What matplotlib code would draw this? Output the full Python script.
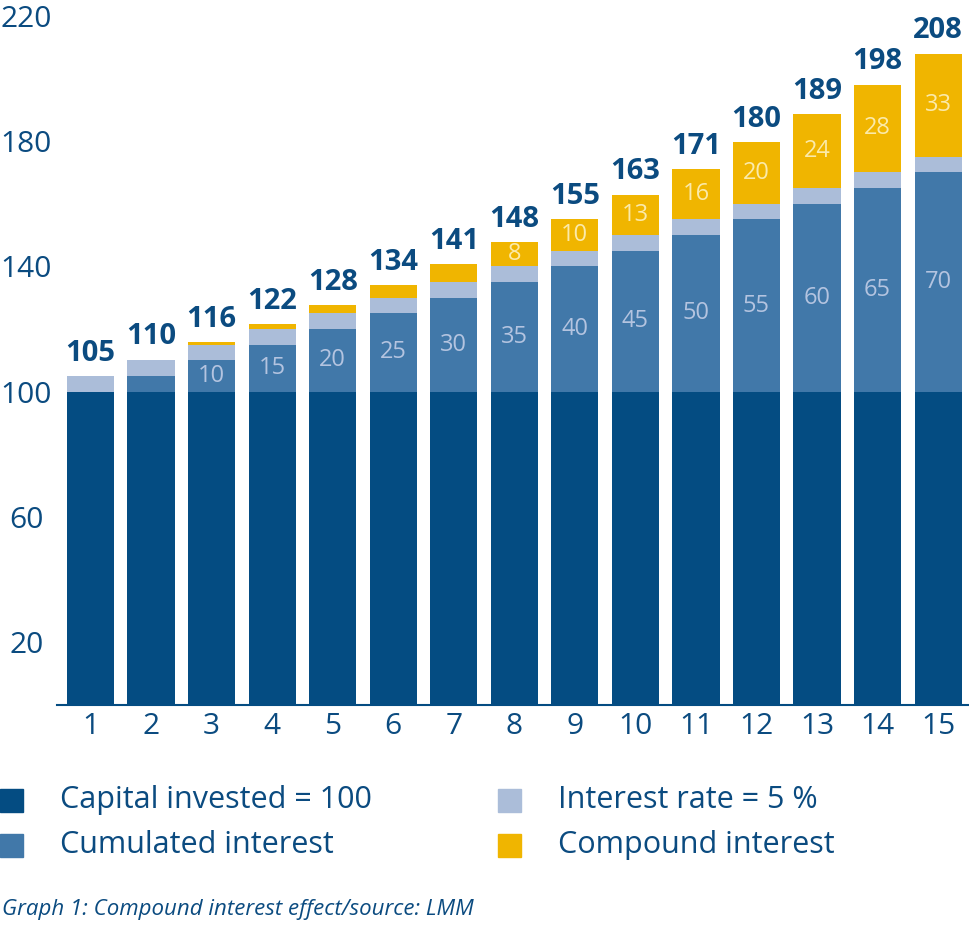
import matplotlib.pyplot as plt
from matplotlib.patches import Rectangle

plt.rcParams['font.family'] = ['Open Sans', 'DejaVu Sans']

# data
years = list(range(1, 16))
capital = [100] * 15
cumulated = [0, 5, 10, 15, 20, 25, 30, 35, 40, 45, 50, 55, 60, 65, 70]
rate = [5] * 15
compound = [0, 0.25, 0.76, 1.55, 2.63, 4.01, 5.71, 7.75, 10.13, 12.89, 16.03, 19.59, 23.56, 27.99, 32.89]
totals = [105, 110, 116, 122, 128, 134, 141, 148, 155, 163, 171, 180, 189, 198, 208]
cum_labels = [None, None, 10, 15, 20, 25, 30, 35, 40, 45, 50, 55, 60, 65, 70]
comp_labels = [None] * 7 + [8, 10, 13, 16, 20, 24, 28, 33]
series_names = ['Capital invested = 100', 'Cumulated interest', 'Interest rate = 5 %', 'Compound interest']
yticks = [20, 60, 100, 140, 180, 220]

navy = '#044c82'
colors = ['#044c82', '#4178a9', '#abbdd9', '#f0b500']
txt = '#0b4b80'

fig = plt.figure(figsize=(9.69, 9.32), dpi=100)
ax = fig.add_axes([57 / 969, 1 - 705 / 932, 1 - 57 / 969, 705 / 932])

w = 0.78
b1 = capital
b2 = [a + b for a, b in zip(b1, cumulated)]
b3 = [a + b for a, b in zip(b2, rate)]
ax.bar(years, capital, w, color=colors[0])
ax.bar(years, cumulated, w, bottom=b1, color=colors[1])
ax.bar(years, rate, w, bottom=b2, color=colors[2])
ax.bar(years, compound, w, bottom=b3, color=colors[3])

for i, x in enumerate(years):
    if cum_labels[i] is not None:
        ax.text(x, b1[i] + cumulated[i] / 2, str(cum_labels[i]), ha='center', va='center',
                fontsize=17, color='#b4c4e0')
    if comp_labels[i] is not None:
        ax.text(x, b3[i] + compound[i] / 2, str(comp_labels[i]), ha='center', va='center',
                fontsize=17, color='#fbeaaa')
    top = b3[i] + compound[i]
    ax.annotate(str(totals[i]), (x, top), xytext=(0, 11), textcoords='offset points',
                ha='center', va='baseline', fontsize=21, fontweight='bold', color=txt)

ax.set_xlim(0.446, 15.51)
ax.set_ylim(0, 225)
ax.set_xticks(years)
ax.set_xticklabels([str(y) for y in years])
ax.set_yticks(yticks)
ax.set_yticklabels([str(v) for v in yticks])
ax.tick_params(axis='both', length=0, labelsize=21.5, labelcolor=txt)
ax.tick_params(axis='x', pad=5)
ax.tick_params(axis='y', pad=22)
for lab in ax.get_yticklabels():
    lab.set_ha('center')
for s in ['top', 'right', 'left']:
    ax.spines[s].set_visible(False)
ax.spines['bottom'].set_color(navy)
ax.spines['bottom'].set_linewidth(1.5)

# legend, two columns
W, H = 969, 932
pos = [(0, 800), (0, 845), (498, 800), (498, 845)]
for (px, py), k in zip(pos, range(4)):
    fig.add_artist(Rectangle((px / W, 1 - (py + 11.5) / H), 23 / W, 23 / H,
                             transform=fig.transFigure, color=colors[k]))
    fig.text((px + 60) / W, 1 - py / H, series_names[k], ha='left', va='center',
             fontsize=22, color=txt)

fig.text(2 / W, 1 - 910 / H, 'Graph 1: Compound interest effect/source: LMM',
         ha='left', va='center', fontsize=16, style='italic', color=txt)

fig.savefig('out.png', dpi=100)
